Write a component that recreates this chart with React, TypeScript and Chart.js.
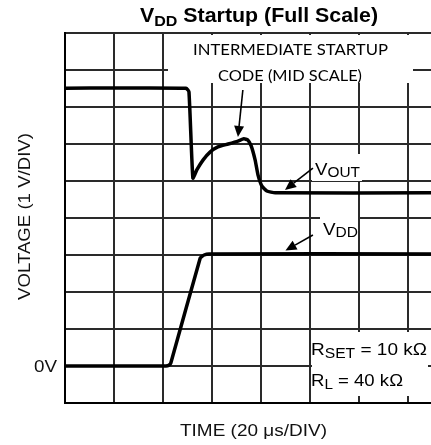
import { useEffect, useRef } from 'react';
import { Chart, registerables } from 'chart.js';

Chart.register(...registerables);

// Time in divisions (20 µs/DIV), voltage in volts (1 V/DIV)
const voutTime = [0, 2.47, 2.53, 2.61, 2.69, 2.82, 2.96, 3.12, 3.33, 3.53, 3.65, 3.73, 3.8, 3.88, 3.94, 4.02, 4.12, 4.29, 7.47];
const voutVolts = [7.51, 7.51, 7.41, 5.08, 5.3, 5.57, 5.78, 5.92, 6.0, 6.08, 6.14, 6.11, 5.95, 5.57, 5.16, 4.86, 4.73, 4.68, 4.68];
const vddTime = [0, 2.06, 2.12, 2.16, 2.76, 2.84, 2.94, 7.47];
const vddVolts = [0, 0, 0.02, 0.08, 2.92, 3.0, 3.03, 3.03];

const xTicksMin = 0;
const xTicksMax = 7.47;
const yTicksMin = -1;
const yTicksMax = 9;

// arrow annotations: [fromX, fromY, toX, toY] in data units
const arrowMid = [3.63, 7.46, 3.53, 6.19];
const arrowVout = [5.06, 5.35, 4.49, 4.76];
const arrowVdd = [5.06, 3.54, 4.5, 3.12];

const ARIAL = '"Liberation Sans", Arial, sans-serif';
const CAL = 'Lato, "Open Sans", sans-serif';

type Run = { t: string; f: string; dy?: number };

function drawFit(ctx: CanvasRenderingContext2D, runs: Run[], x: number, y: number, width: number, align: 'left' | 'right' = 'left') {
  ctx.save();
  ctx.textBaseline = 'alphabetic';
  ctx.textAlign = 'left';
  let total = 0;
  const ws = runs.map((r) => {
    ctx.font = r.f;
    const w = ctx.measureText(r.t).width;
    total += w;
    return w;
  });
  const sx = width / total;
  ctx.translate(align === 'left' ? x : x - width, y);
  ctx.scale(sx, 1);
  let cx = 0;
  runs.forEach((r, i) => {
    ctx.font = r.f;
    ctx.fillText(r.t, cx, r.dy || 0);
    cx += ws[i];
  });
  ctx.restore();
}

function drawArrow(ctx: CanvasRenderingContext2D, x1: number, y1: number, x2: number, y2: number) {
  const ang = Math.atan2(y2 - y1, x2 - x1);
  const len = 11;
  const hw = 5;
  const bx = x2 - Math.cos(ang) * len;
  const by = y2 - Math.sin(ang) * len;
  ctx.save();
  ctx.strokeStyle = '#000';
  ctx.fillStyle = '#000';
  ctx.lineWidth = 1.6;
  ctx.beginPath();
  ctx.moveTo(x1, y1);
  ctx.lineTo(bx, by);
  ctx.stroke();
  ctx.beginPath();
  ctx.moveTo(x2, y2);
  ctx.lineTo(bx + Math.sin(ang) * hw, by - Math.cos(ang) * hw);
  ctx.lineTo(bx - Math.sin(ang) * hw, by + Math.cos(ang) * hw);
  ctx.closePath();
  ctx.fill();
  ctx.restore();
}

const annotations = {
  id: 'annotations',
  beforeDatasetsDraw(chart: any) {
    const ctx = chart.ctx as CanvasRenderingContext2D;
    ctx.save();
    ctx.fillStyle = '#fff';
    ctx.fillRect(168, 35, 245, 48);
    ctx.fillRect(312, 154, 50, 27);
    ctx.fillRect(320, 214, 38, 28);
    ctx.fillRect(312, 332, 116, 64);
    ctx.restore();
  },
  afterDatasetsDraw(chart: any) {
    const ctx = chart.ctx as CanvasRenderingContext2D;
    const xs = chart.scales.x;
    const ys = chart.scales.y;
    const arr = (a: number[]) =>
      drawArrow(ctx, xs.getPixelForValue(a[0]), ys.getPixelForValue(a[1]), xs.getPixelForValue(a[2]), ys.getPixelForValue(a[3]));
    arr(arrowMid);
    arr(arrowVout);
    arr(arrowVdd);

    ctx.fillStyle = '#000';
    drawFit(ctx, [{ t: 'INTERMEDIATE STARTUP', f: `16px ${CAL}` }], 193, 55, 195);
    drawFit(ctx, [{ t: 'CODE (MID SCALE)', f: `16px ${CAL}` }], 218, 81, 144);
    drawFit(ctx, [{ t: 'V', f: `17px ${ARIAL}` }, { t: 'OUT', f: `14px ${ARIAL}`, dy: 2 }], 315, 175, 45);
    drawFit(ctx, [{ t: 'V', f: `17px ${ARIAL}` }, { t: 'DD', f: `14px ${ARIAL}`, dy: 2 }], 323, 235, 35);
    drawFit(ctx, [{ t: 'R', f: `17px ${ARIAL}` }, { t: 'SET', f: `14px ${ARIAL}`, dy: 3 }, { t: ' = 10 kΩ', f: `17px ${ARIAL}` }], 311, 355, 116);
    drawFit(ctx, [{ t: 'R', f: `17px ${ARIAL}` }, { t: 'L', f: `14px ${ARIAL}`, dy: 3 }, { t: ' = 40 kΩ', f: `17px ${ARIAL}` }], 311, 386, 92);
  },
  afterDraw(chart: any) {
    const ctx = chart.ctx as CanvasRenderingContext2D;
    ctx.save();
    ctx.fillStyle = '#000';
    drawFit(ctx, [{ t: 'V', f: `bold 20px ${ARIAL}` }, { t: 'DD', f: `bold 15px ${ARIAL}`, dy: 4 }, { t: ' Startup (Full Scale)', f: `bold 20px ${ARIAL}` }], 140, 22, 238);
    ctx.fillStyle = '#111';
    drawFit(ctx, [{ t: '0V', f: `17px ${ARIAL}` }], 57, 372, 23, 'right');
    drawFit(ctx, [{ t: 'TIME (20 μs/DIV)', f: `17px ${ARIAL}` }], 180, 436, 147);
    ctx.save();
    ctx.translate(30, 300);
    ctx.rotate(-Math.PI / 2);
    drawFit(ctx, [{ t: 'VOLTAGE (1 V/DIV)', f: `17px ${ARIAL}` }], 0, 0, 167);
    ctx.restore();
    ctx.restore();
  },
};

export default function App() {
  const ref = useRef<HTMLCanvasElement>(null);
  useEffect(() => {
    const gridColor = '#2a2a2a';
    const chart = new Chart(ref.current as HTMLCanvasElement, {
      type: 'line',
      data: {
        datasets: [
          {
            label: 'VOUT',
            data: voutTime.map((t, i) => ({ x: t, y: voutVolts[i] })),
            borderColor: '#000',
            borderWidth: 3.5,
            pointRadius: 0,
            tension: 0.15,
            borderJoinStyle: 'round',
            fill: false,
          },
          {
            label: 'VDD',
            data: vddTime.map((t, i) => ({ x: t, y: vddVolts[i] })),
            borderColor: '#000',
            borderWidth: 3.5,
            pointRadius: 0,
            tension: 0.1,
            borderJoinStyle: 'round',
            fill: false,
          },
        ],
      },
      options: {
        animation: false,
        responsive: false,
        maintainAspectRatio: false,
        layout: { padding: { left: 65, top: 33, right: 0, bottom: 42 } },
        plugins: { legend: { display: false }, tooltip: { enabled: false }, title: { display: false } },
        scales: {
          x: {
            type: 'linear',
            min: xTicksMin,
            max: xTicksMax,
            ticks: { display: false, stepSize: 1, includeBounds: false },
            grid: { color: gridColor, lineWidth: 2, drawTicks: false },
            border: { display: true, color: '#000', width: 2 },
          },
          y: {
            type: 'linear',
            min: yTicksMin,
            max: yTicksMax,
            ticks: { display: false, stepSize: 1 },
            grid: { color: gridColor, lineWidth: 2, drawTicks: false },
            border: { display: true, color: '#000', width: 2 },
          },
        },
      },
      plugins: [annotations],
    } as any);
    return () => chart.destroy();
  }, []);
  return (
    <div style={{ position: 'fixed', left: 0, top: 0, width: 431, height: 445, background: '#fff' }}>
      <canvas ref={ref} width={431} height={445} style={{ display: 'block', width: 431, height: 445 }} />
    </div>
  );
}
